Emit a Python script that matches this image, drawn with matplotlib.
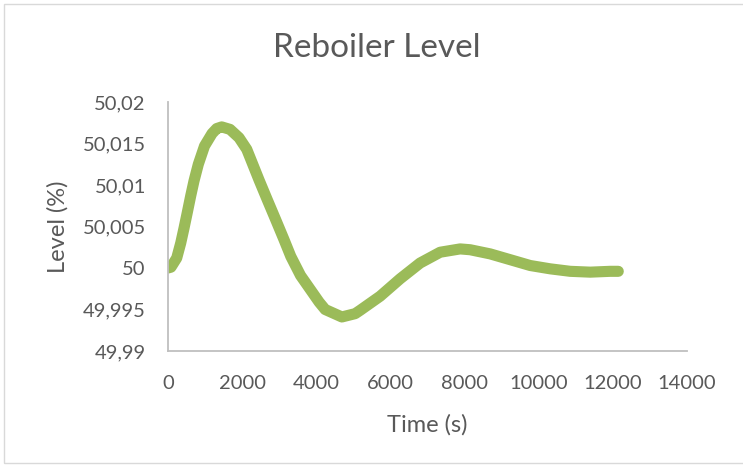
import matplotlib.pyplot as plt
from matplotlib.ticker import FuncFormatter, MultipleLocator
from matplotlib.patches import Rectangle

# values
time_s = [0, 80, 235, 343, 432, 521, 613, 702, 818, 985, 1188, 1314, 1449,
          1673, 1916, 2124, 2232, 2456, 2680, 2907, 3131, 3312, 3575, 4075,
          4240, 4690, 5049, 5182, 5722, 6262, 6801, 7341, 7881, 8151, 8691,
          9231, 9770, 10310, 10850, 11390, 11929, 12146]
level = [50.0000, 50.0001, 50.0012, 50.0030, 50.0048, 50.0067, 50.0087,
         50.0105, 50.0125, 50.0147, 50.0162, 50.0168, 50.0170, 50.0167,
         50.0157, 50.0143, 50.0131, 50.0106, 50.0082, 50.0058, 50.0034,
         50.0014, 49.9991, 49.9959, 49.9950, 49.9941, 49.9945, 49.9949,
         49.9966, 49.9987, 50.0006, 50.0019, 50.0023, 50.0022, 50.0017,
         50.0010, 50.0003, 49.9999, 49.9996, 49.9995, 49.9996, 49.9996]

GREEN = "#9BBB59"
GRAY_TXT = "#595959"
AXIS_C = "#BFBFBF"

plt.rcParams["font.family"] = ["Lato", "DejaVu Sans"]

fig = plt.figure(figsize=(7.43, 4.65), dpi=100)
ax = fig.add_axes([168 / 743, 1 - 351 / 465, (687 - 168) / 743, (351 - 102) / 465])

ax.plot(time_s, level, color=GREEN, linewidth=8, solid_capstyle="round",
        solid_joinstyle="round")

ax.set_xlim(0, 14000)
ax.set_ylim(49.99, 50.02)
ax.xaxis.set_major_locator(MultipleLocator(2000))
ax.yaxis.set_major_locator(MultipleLocator(0.005))


def comma_fmt(v, pos):
    s = f"{v:.3f}".rstrip("0").rstrip(".")
    return s.replace(".", ",")


ax.yaxis.set_major_formatter(FuncFormatter(comma_fmt))
ax.xaxis.set_major_formatter(FuncFormatter(lambda v, p: f"{int(round(v))}"))

for side in ["top", "right"]:
    ax.spines[side].set_visible(False)
for side in ["left", "bottom"]:
    ax.spines[side].set_color(AXIS_C)
    ax.spines[side].set_linewidth(1.3)

ax.tick_params(length=0, labelsize=14.5, colors=GRAY_TXT)
ax.tick_params(axis="y", pad=16)
ax.tick_params(axis="x", pad=17)

ax.set_xlabel("Time (s)", fontsize=17, color=GRAY_TXT, labelpad=16)
ax.set_ylabel("Level (%)", fontsize=17, color=GRAY_TXT, labelpad=10)
fig.text(377 / 743, 1 - 48 / 465, "Reboiler Level", fontsize=24, color=GRAY_TXT,
         ha="center", va="center")

fig.patches.append(Rectangle((4 / 743, 2 / 465), 745 / 743, 459 / 465,
                             transform=fig.transFigure, fill=False,
                             edgecolor="#D9D9D9", linewidth=1))

fig.savefig("out.png", dpi=100)
